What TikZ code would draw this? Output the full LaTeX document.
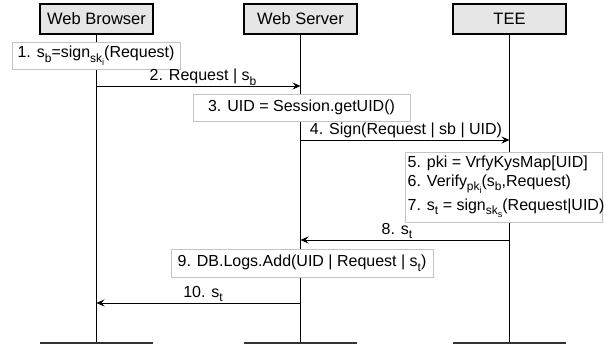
\documentclass[tikz,border=0pt]{standalone}
\usepackage{fontspec}
\setmainfont{Liberation Sans}
\usetikzlibrary{arrows.meta}
\newcommand\sbx[1]{\raisebox{-0.3em}{\fontsize{12}{12}\selectfont #1}}
\newcommand\ssbx[1]{\raisebox{-0.22em}{\fontsize{9}{9}\selectfont #1}}
\definecolor{hdrfill}{HTML}{E6E6E6}
\definecolor{boxline}{HTML}{C4C4C4}
\tikzset{
  hdr/.style={draw=black, line width=1.4pt, fill=hdrfill, minimum width=113pt, minimum height=30pt, inner sep=0pt, font=\fontsize{16.5}{19}\selectfont},
  life/.style={line width=1.4pt},
  bar/.style={line width=1.8pt, draw=black!80},
  actbox/.style={draw=boxline, line width=0.8pt, fill=white, inner sep=0pt, font=\fontsize{16}{19}\selectfont},
  txt/.style={inner sep=0pt, font=\fontsize{16}{19}\selectfont},
  msg/.style={line width=0.9pt, -{Stealth[length=8pt,width=7pt,inset=3pt]}},
}
\begin{document}
\begin{tikzpicture}[x=1pt,y=-1pt]
\useasboundingbox (0,0) rectangle (604,345);
% headers
\node[hdr] (wb) at (96.5,19) {Web Browser};
\node[hdr] (ws) at (300.5,19) {Web Server};
\node[hdr] (tee) at (509.5,19) {TEE};
% bottom bars
\coordinate (wbe) at (96.5,343);
\coordinate (wse) at (300.5,343);
\coordinate (teee) at (509.5,343);
\draw[life] (wb.south) -- (wbe);
\draw[life] (ws.south) -- (wse);
\draw[life] (tee.south) -- (teee);
\draw[bar] ([xshift=-56.5pt]wbe) -- ([xshift=56.5pt]wbe);
\draw[bar] ([xshift=-56.5pt]wse) -- ([xshift=56.5pt]wse);
\draw[bar] ([xshift=-56.5pt]teee) -- ([xshift=56.5pt]teee);
% step 1
\node[actbox, minimum width=168pt, minimum height=27pt] (s1) at (96,55.5) {1. s\sbx{b}=sign\sbx{sk\ssbx{i}}(Request)};
% message 2
\coordinate (m2a) at (96.5,86);
\coordinate (m2b) at (300.5,86);
\draw[msg] (m2a) -- (m2b);
\node[txt, anchor=base] (l2) at (203,80.5) {2. Request | s\sbx{b}};
% step 3
\node[actbox, minimum width=217pt, minimum height=27pt] (s3) at (301.5,107.5) {3. UID = Session.getUID()};
% message 4
\coordinate (m4a) at (300.5,140);
\coordinate (m4b) at (509.5,140);
\draw[msg] (m4a) -- (m4b);
\node[txt, anchor=base] (l4) at (406,134) {4. Sign(Request | sb | UID)};
% steps 5-7
\node[actbox, minimum width=197pt, minimum height=70pt] (s5) at (504.3,187) {};
\node[txt, anchor=base west] (t5) at (407.5,167) {5. pki = VrfyKysMap[UID]};
\node[txt, anchor=base west] (t6) at (407.5,186) {6. Verify\sbx{pk\ssbx{i}}(s\sbx{b},Request)};
\node[txt, anchor=base west] (t7) at (407.5,210) {7. s\sbx{t} = sign\sbx{sk\ssbx{s}}(Request|UID)};
% message 8
\coordinate (m8a) at (509.5,240);
\coordinate (m8b) at (300.5,240);
\draw[msg] (m8a) -- (m8b);
\node[txt, anchor=base] (l8) at (397,234) {8. s\sbx{t}};
% step 9
\node[actbox, minimum width=262pt, minimum height=28pt] (s9) at (302,263) {9. DB.Logs.Add(UID | Request | s\sbx{t})};
% message 10
\coordinate (m10a) at (300.5,303);
\coordinate (m10b) at (96.5,303);
\draw[msg] (m10a) -- (m10b);
\node[txt, anchor=base] (l10) at (203,297) {10. s\sbx{t}};
\end{tikzpicture}
\end{document}
